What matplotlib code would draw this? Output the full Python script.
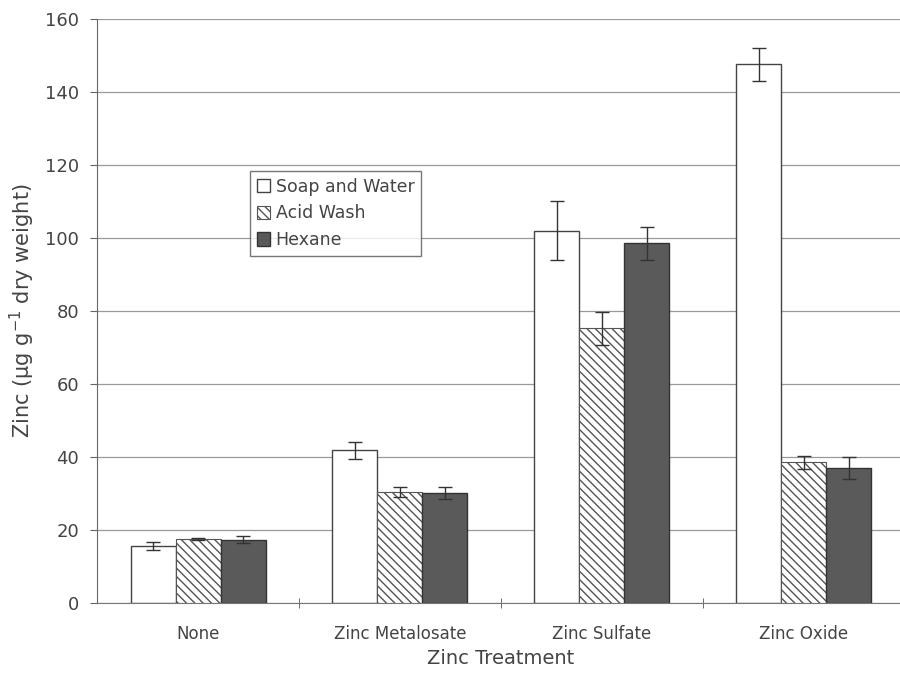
import matplotlib
matplotlib.use("Agg")
import matplotlib.pyplot as plt
import numpy as np

categories = ["None", "Zinc Metalosate", "Zinc Sulfate", "Zinc Oxide"]
series_names = ["Soap and Water", "Acid Wash", "Hexane"]
soap = [15.6, 41.8, 102.0, 147.5]
soap_err = [1.2, 2.3, 8.0, 4.5]
acid = [17.5, 30.4, 75.3, 38.5]
acid_err = [0.3, 1.4, 4.5, 1.9]
hexane = [17.3, 30.2, 98.5, 37.0]
hexane_err = [1.0, 1.7, 4.5, 3.0]
yticks = [0, 20, 40, 60, 80, 100, 120, 140, 160]

plt.rcParams['font.family'] = ['DejaVu Sans']
plt.rcParams['hatch.linewidth'] = 1.0
plt.rcParams['hatch.color'] = '#333333'

fig = plt.figure(figsize=(9, 6.73), dpi=100)
ax = fig.add_axes([0.108, 0.104, 0.897, 0.868])

x = np.arange(len(categories))
w = 0.223
txt = '#444444'

ax.set_axisbelow(True)
ax.yaxis.grid(True, color='#999999', linewidth=0.9)

ax.bar(x - w, soap, w, facecolor='white', edgecolor='#444444', linewidth=1.0,
       label=series_names[0], zorder=2)
ax.bar(x, acid, w, facecolor='white', edgecolor='#555555', linewidth=0.8,
       hatch='\\\\\\\\', label=series_names[1], zorder=2)
ax.bar(x + w, hexane, w, facecolor='#5a5a5a', edgecolor='#333333', linewidth=1.0,
       label=series_names[2], zorder=2)

ekw = dict(fmt='none', ecolor='#333333', elinewidth=1.0, capsize=5, capthick=1.0, zorder=3)
ax.errorbar(x - w, soap, yerr=soap_err, **ekw)
ax.errorbar(x, acid, yerr=acid_err, **ekw)
ax.errorbar(x + w, hexane, yerr=hexane_err, **ekw)

ax.set_xlim(-0.5, 3.5)
ax.set_ylim(0, 160)
ax.set_yticks(yticks)
ax.set_yticklabels([str(v) for v in yticks], fontsize=13, color=txt)

ax.set_xticks(x)
ax.set_xticklabels(categories, fontsize=12, color=txt)
ax.tick_params(axis='x', which='major', length=0, pad=16)
ax.set_xticks([0.5, 1.5, 2.5], minor=True)
ax.tick_params(axis='x', which='minor', length=7, direction='inout', color='#555555')
ax.tick_params(axis='y', length=5, direction='out', color='#666666', pad=8)

for s in ['top', 'right']:
    ax.spines[s].set_visible(False)
ax.spines['left'].set_color('#666666')
ax.spines['bottom'].set_color('#777777')

ax.set_xlabel("Zinc Treatment", fontsize=14, color=txt, labelpad=4)
ax.set_ylabel(r"Zinc ($\mathregular{\mu}$g g$^{\mathregular{-1}}$ dry weight)", fontsize=15, color=txt, labelpad=6)

leg = ax.legend(loc='upper left', bbox_to_anchor=(0.178, 0.755), fontsize=12.5,
                frameon=True, fancybox=False, edgecolor='#555555',
                handlelength=0.8, handleheight=0.8, handletextpad=0.3,
                labelspacing=0.5, borderpad=0.4, labelcolor=txt)
leg.get_frame().set_linewidth(1.0)

fig.savefig("out.png", dpi=100)
